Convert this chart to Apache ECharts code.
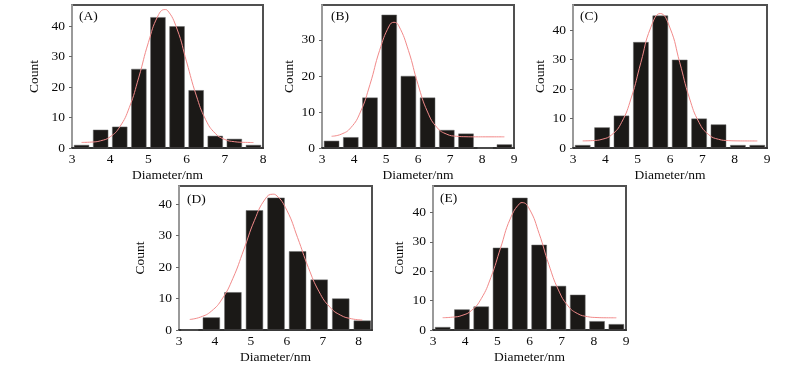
<!DOCTYPE html>
<html><head><meta charset="utf-8">
<script src="https://cdn.jsdelivr.net/npm/echarts@6/dist/echarts.min.js"></script>
<style>html,body{margin:0;padding:0;background:#fff}#c{width:800px;height:368px}</style>
</head><body><div id="c"></div>
<script>
const panelLabels = ['(A)', '(B)', '(C)', '(D)', '(E)'];
const xAxisName = 'Diameter/nm';
const yAxisName = 'Count';

const binsA = [3.25, 3.75, 4.25, 4.75, 5.25, 5.75, 6.25, 6.75, 7.25, 7.75];
const countsA = [1, 6, 7, 26, 43, 40, 19, 4, 3, 1];
const fitXA = [3.25, 3.5, 3.75, 4.0, 4.25, 4.5, 4.75, 5.0, 5.25, 5.43, 5.5, 5.75, 6.0, 6.25, 6.5, 6.75, 7.0, 7.25, 7.5, 7.75];
const fitYA = [1.83, 1.94, 2.37, 3.68, 6.93, 13.3, 23.3, 34.7, 43.4, 45.5, 45.2, 39.1, 28.3, 17.4, 9.3, 4.8, 2.8, 2.07, 1.86, 1.8];

const binsB = [3.3, 3.9, 4.5, 5.1, 5.7, 6.3, 6.9, 7.5, 8.1, 8.7];
const countsB = [2, 3, 14, 37, 20, 14, 5, 4, 0, 1];
const fitXB = [3.3, 3.6, 3.9, 4.2, 4.5, 4.8, 5.1, 5.25, 5.4, 5.7, 6.0, 6.3, 6.6, 6.9, 7.2, 7.5, 7.8, 8.1, 8.4, 8.7];
const fitYB = [3.26, 3.83, 5.63, 9.98, 17.66, 27.1, 33.9, 34.9, 33.9, 27.1, 17.66, 9.98, 5.63, 3.83, 3.26, 3.13, 3.1, 3.1, 3.1, 3.1];

const binsC = [3.3, 3.9, 4.5, 5.1, 5.7, 6.3, 6.9, 7.5, 8.1, 8.7];
const countsC = [1, 7, 11, 36, 45, 30, 10, 8, 1, 1];
const fitXC = [3.3, 3.6, 3.9, 4.2, 4.5, 4.8, 5.1, 5.4, 5.7, 6.0, 6.3, 6.6, 6.9, 7.2, 7.5, 7.8, 8.1, 8.4, 8.7];
const fitYC = [2.42, 2.52, 2.96, 4.51, 8.65, 17.0, 29.1, 40.8, 45.7, 40.8, 29.1, 17.0, 8.65, 4.51, 2.96, 2.52, 2.42, 2.4, 2.4];

const binsD = [3.3, 3.9, 4.5, 5.1, 5.7, 6.3, 6.9, 7.5, 8.1];
const countsD = [0, 4, 12, 38, 42, 25, 16, 10, 3];
const fitXD = [3.3, 3.6, 3.9, 4.2, 4.5, 4.8, 5.1, 5.4, 5.61, 5.7, 6.0, 6.3, 6.6, 6.9, 7.2, 7.5, 7.8, 8.1];
const fitYD = [3.35, 4.11, 5.98, 9.86, 16.4, 25.4, 34.8, 41.6, 43.1, 42.8, 38.0, 29.3, 19.8, 12.1, 7.25, 4.68, 3.57, 3.16];

const binsE = [3.3, 3.9, 4.5, 5.1, 5.7, 6.3, 6.9, 7.5, 8.1, 8.7];
const countsE = [1, 7, 8, 28, 45, 29, 15, 12, 3, 2];
const fitXE = [3.3, 3.6, 3.9, 4.2, 4.5, 4.8, 5.1, 5.4, 5.7, 5.77, 6.0, 6.3, 6.6, 6.9, 7.2, 7.5, 7.8, 8.1, 8.4, 8.7];
const fitYE = [4.19, 4.36, 4.95, 6.67, 10.66, 17.9, 27.9, 37.8, 43.1, 43.35, 41.1, 32.8, 22.3, 13.6, 8.17, 5.55, 4.55, 4.24, 4.16, 4.15];

const xMin = [3, 3, 3, 3, 3];
const xMax = [8, 9, 9, 8.37, 9];
const yMax = [47, 39.7, 48.6, 45.7, 49];

const panels = [
  { bins: binsA, counts: countsA, fx: fitXA, fy: fitYA },
  { bins: binsB, counts: countsB, fx: fitXB, fy: fitYB },
  { bins: binsC, counts: countsC, fx: fitXC, fy: fitYC },
  { bins: binsD, counts: countsD, fx: fitXD, fy: fitYD },
  { bins: binsE, counts: countsE, fx: fitXE, fy: fitYE }
];

const layout = [
  { left: 72, top: 5, width: 191, height: 143, lx: 79, ly: 9, ygap: 31 },
  { left: 322, top: 5, width: 192, height: 143, lx: 331, ly: 9, ygap: 26 },
  { left: 573, top: 5, width: 194, height: 143, lx: 580, ly: 9, ygap: 26 },
  { left: 179, top: 186, width: 193, height: 144, lx: 187, ly: 192, ygap: 32 },
  { left: 433, top: 186, width: 193, height: 144, lx: 440, ly: 191, ygap: 27 }
];

const font = 'Liberation Serif';
const txt = { fontFamily: font, fontSize: 13.5, color: '#0a0a0a' };
const intOnly = v => (Math.abs(v - Math.round(v)) < 1e-9 ? String(Math.round(v)) : '');

const grid = [], xAxis = [], yAxis = [], series = [], title = [];
panels.forEach((p, i) => {
  const L = layout[i];
  grid.push({ left: L.left, top: L.top, width: L.width, height: L.height, show: true,
    borderColor: '#505050', borderWidth: 2, backgroundColor: 'transparent' });
  xAxis.push({ type: 'value', gridIndex: i, min: xMin[i], max: xMax[i], interval: 1,
    name: xAxisName, nameLocation: 'middle', nameGap: 20, nameTextStyle: txt,
    axisLine: { show: true, onZero: false, lineStyle: { color: '#333', width: 2 } },
    axisTick: { show: false }, splitLine: { show: false },
    axisLabel: Object.assign({ margin: 4, formatter: intOnly, showMaxLabel: true, showMinLabel: true }, txt) });
  yAxis.push({ type: 'value', gridIndex: i, min: 0, max: yMax[i], interval: 10,
    name: yAxisName, nameLocation: 'middle', nameRotate: 90, nameGap: L.ygap, nameTextStyle: txt,
    axisLine: { show: true, lineStyle: { color: '#9a9a9a', width: 2 } },
    axisTick: { show: true, length: 3, lineStyle: { color: '#666', width: 1 } },
    splitLine: { show: false },
    axisLabel: Object.assign({ margin: 7, formatter: intOnly, showMaxLabel: false }, txt) });
  series.push({ type: 'bar', xAxisIndex: i, yAxisIndex: i, barWidth: '80%',
    itemStyle: { color: '#1b1917', borderColor: '#6a6a6a', borderWidth: 0.5 },
    data: p.bins.map((b, k) => [b, p.counts[k]]), silent: true, animation: false });
  series.push({ type: 'line', xAxisIndex: i, yAxisIndex: i, smooth: true, symbol: 'none',
    lineStyle: { color: '#f28a8a', width: 1 }, z: 5,
    data: p.fx.map((x, k) => [x, p.fy[k]]), silent: true, animation: false });
  title.push({ text: panelLabels[i], left: L.lx, top: L.ly, padding: 0,
    textStyle: { fontFamily: font, fontSize: 13.5, fontWeight: 'normal', color: '#0a0a0a' } });
});

const chart = echarts.init(document.getElementById('c'), null, { renderer: 'canvas' });
chart.setOption({ animation: false, backgroundColor: '#fff', title, grid, xAxis, yAxis, series });
</script></body></html>
